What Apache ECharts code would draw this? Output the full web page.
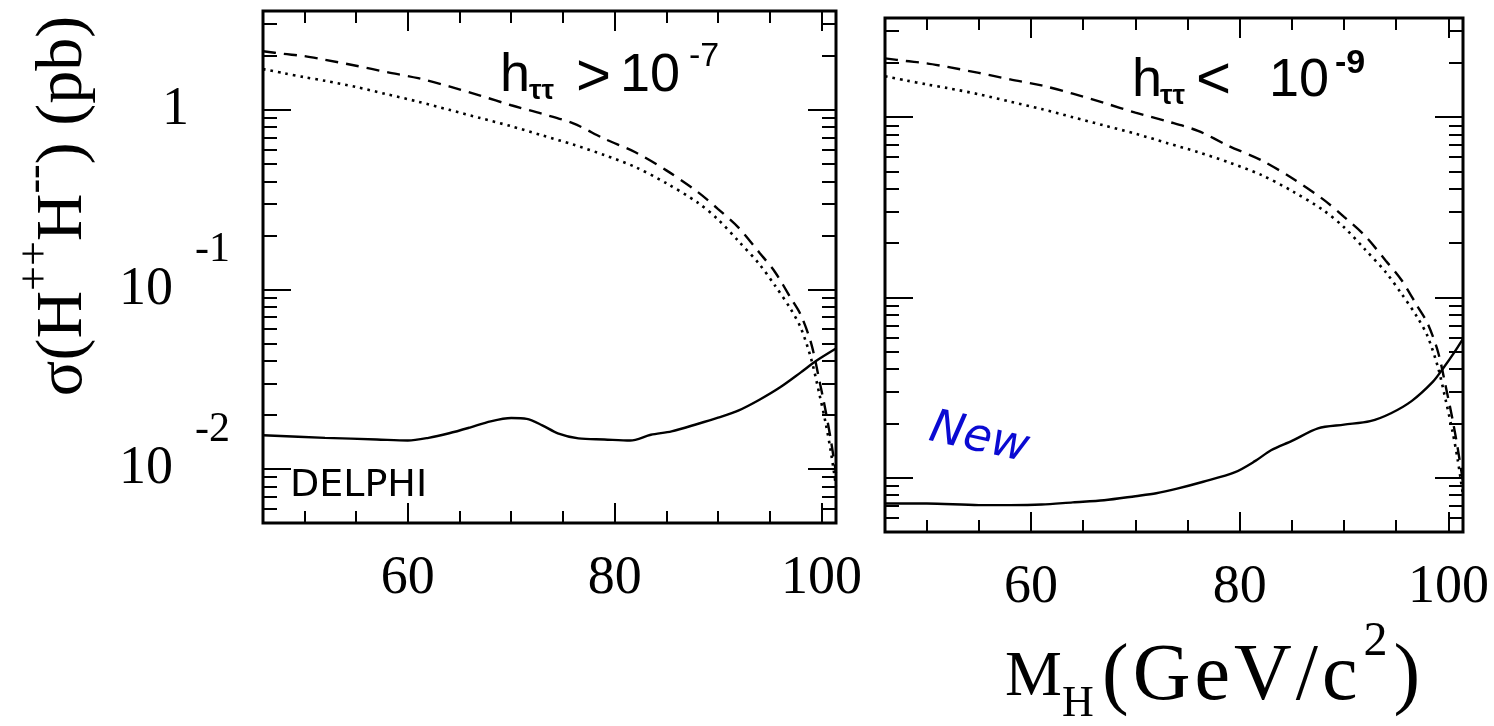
<!DOCTYPE html>
<html><head><meta charset="utf-8">
<script src="https://cdn.jsdelivr.net/npm/echarts@6/dist/echarts.min.js"></script>
<style>html,body{margin:0;padding:0;background:#fff}#c{width:1494px;height:726px}</style>
</head><body><div id="c"></div>
<script>
// ---- data ----
const massTheory   = [46, 48, 50, 52, 55, 58, 61, 64, 67, 70, 73, 76, 79, 82, 85, 88, 90, 92, 94, 95.5, 97, 98, 99, 99.8, 100.4, 100.9, 101.4];
const sigmaDashed  = [2.12, 2.05, 1.99, 1.90, 1.76, 1.62, 1.50, 1.35, 1.20, 1.06, 0.95, 0.84, 0.69, 0.58, 0.46, 0.35, 0.28, 0.22, 0.16, 0.125, 0.09, 0.072, 0.05, 0.031, 0.021, 0.0145, 0.0095];
const sigmaDotted  = [1.685, 1.60, 1.52, 1.45, 1.34, 1.22, 1.11, 1.00, 0.90, 0.81, 0.72, 0.64, 0.56, 0.48, 0.39, 0.305, 0.245, 0.185, 0.138, 0.105, 0.078, 0.061, 0.041, 0.026, 0.018, 0.0125, 0.008];
const massLimitLeft  = [46, 52, 57, 60, 62, 64, 66, 68, 70, 71.5, 73, 74.5, 76.5, 79, 81.5, 83.5, 85.5, 88, 90, 92, 94, 96, 98, 99.5, 101.4];
const sigmaLimitLeft = [0.0154, 0.0149, 0.0146, 0.0144, 0.0149, 0.0158, 0.0170, 0.0184, 0.0192, 0.0190, 0.0175, 0.0158, 0.0148, 0.0146, 0.0144, 0.0155, 0.0162, 0.0178, 0.0193, 0.0212, 0.0243, 0.0285, 0.0345, 0.0400, 0.0468];
const massLimitRight  = [46, 50, 55, 58, 61, 64, 67, 70, 72, 74, 76.5, 79.5, 81.5, 83, 85, 87.5, 90, 92.5, 94.5, 96.5, 98.5, 99.5, 100.5, 101.4];
const sigmaLimitRight = [0.0072, 0.0072, 0.00705, 0.00705, 0.0071, 0.0073, 0.0075, 0.0079, 0.0082, 0.0087, 0.0095, 0.0107, 0.0124, 0.0142, 0.0160, 0.0188, 0.0197, 0.0206, 0.0228, 0.0267, 0.0340, 0.0405, 0.049, 0.059];
const xMajorTicks = [60, 80, 100];
const xTickLabels = ['60', '80', '100'];
const xMinorTicks = [50, 55, 65, 70, 75, 85, 90, 95];
const yMajorTicks = [0.01, 0.1, 1];
const yLabelMantissa = ['10', '10', '1'];
const yLabelExponent = ['-2', '-1', ''];
const yMinorTicks = [0.006, 0.007, 0.008, 0.009, 0.02, 0.03, 0.04, 0.05, 0.06, 0.07, 0.08, 0.09, 0.2, 0.3, 0.4, 0.5, 0.6, 0.7, 0.8, 0.9, 2, 3];
const panelText = ['h', 'ττ', '>', '10', '-7', '<', '-9'];
const xTitleUnitChars = ['(', 'G', 'e', 'V', '/', 'c'];

const X_MIN = 46, X_MAX = 101.4, Y_MIN = 0.005, Y_MAX = 3.55;
const SERIF = '"Liberation Serif", "Times New Roman", serif';
const SANS = '"Liberation Sans", Arial, sans-serif';

function pairs(xs, ys) { return xs.map((x, i) => [x, ys[i]]); }

function xAxesFor(gi, withLabels) {
  const mk = (pos, ticks, len, labels) => ({
    gridIndex: gi, type: 'value', min: X_MIN, max: X_MAX, position: pos,
    axisLine: { show: false, onZero: false }, splitLine: { show: false },
    axisTick: { show: true, inside: true, length: len, customValues: ticks, lineStyle: { color: '#000', width: 2 } },
    axisLabel: labels ? {
      show: true, customValues: xMajorTicks, margin: 29,
      formatter: v => xTickLabels[xMajorTicks.indexOf(v)] || '',
      fontSize: 54, fontFamily: SERIF, color: '#000'
    } : { show: false }
  });
  return [
    mk('bottom', xMajorTicks, 20, withLabels),
    mk('bottom', xMinorTicks, 12, false),
    mk('top', xMajorTicks, 20, false),
    mk('top', xMinorTicks, 12, false)
  ];
}

function yAxesFor(gi, withLabels) {
  const mk = (pos, ticks, len, labels) => ({
    gridIndex: gi, type: 'log', logBase: 10, min: Y_MIN, max: Y_MAX, position: pos,
    axisLine: { show: false, onZero: false }, splitLine: { show: false },
    axisTick: { show: true, inside: true, length: len, customValues: ticks, lineStyle: { color: '#000', width: 2 } },
    axisLabel: labels ? {
      show: true, customValues: yMajorTicks, margin: 33,
      formatter: v => {
        const i = yMajorTicks.findIndex(t => Math.abs(Math.log10(t) - Math.log10(v)) < 1e-6);
        if (i < 0) return '';
        return yLabelExponent[i] ? '{b|' + yLabelMantissa[i] + '}{e|' + yLabelExponent[i] + '}' : '{one|' + yLabelMantissa[i] + '}';
      },
      rich: {
        b: { fontSize: 54, lineHeight: 120, fontFamily: SERIF, color: '#000' },
        e: { fontSize: 42, lineHeight: 42, fontFamily: SERIF, color: '#000', verticalAlign: 'top', padding: [0, 0, 0, 22] },
        one: { fontSize: 54, lineHeight: 60, fontFamily: SERIF, color: '#000', padding: [0, 41, 0, 0] }
      }
    } : { show: false }
  });
  return [
    mk('left', yMajorTicks, 28, withLabels),
    mk('left', yMinorTicks, 14, false),
    mk('right', yMajorTicks, 28, false),
    mk('right', yMinorTicks, 14, false)
  ];
}

function seriesFor(gi, limX, limY) {
  const common = { type: 'line', xAxisIndex: 4 * gi, yAxisIndex: 4 * gi, showSymbol: false, symbol: 'none', silent: true, animation: false };
  return [
    Object.assign({}, common, { name: 'dashed' + gi, data: pairs(massTheory, sigmaDashed), smooth: 0.3,
      lineStyle: { color: '#000', width: 2.4, type: [13, 8] } }),
    Object.assign({}, common, { name: 'dotted' + gi, data: pairs(massTheory, sigmaDotted), smooth: 0.3,
      lineStyle: { color: '#000', width: 2.6, type: [2.6, 5] } }),
    Object.assign({}, common, { name: 'limit' + gi, data: pairs(limX, limY), smooth: 0.3,
      lineStyle: { color: '#000', width: 2.4, type: 'solid' } })
  ];
}

function txt(x, y, text, font, extra) {
  return { type: 'text', x: x, y: y, silent: true,
    style: Object.assign({ text: text, font: font, fill: '#000', align: 'left', verticalAlign: 'middle',
      textAlign: 'left', textVerticalAlign: 'middle' }, extra || {}) };
}

const unitRich = xTitleUnitChars.map(c => '{p|' + c + '}').join('') + '{sup|2}{p|)}';

const option = {
  animation: false,
  backgroundColor: '#fff',
  grid: [
    { left: 263, top: 11, width: 573, height: 512, show: true, borderColor: '#000', borderWidth: 3, backgroundColor: 'transparent', containLabel: false, outerBoundsMode: 'none' },
    { left: 885, top: 18, width: 578, height: 514, show: true, borderColor: '#000', borderWidth: 3, backgroundColor: 'transparent', containLabel: false, outerBoundsMode: 'none' }
  ],
  xAxis: xAxesFor(0, true).concat(xAxesFor(1, true)),
  yAxis: yAxesFor(0, true).concat(yAxesFor(1, false)),
  series: seriesFor(0, massLimitLeft, sigmaLimitLeft).concat(seriesFor(1, massLimitRight, sigmaLimitRight)),
  graphic: [
    // left panel annotation
    txt(500, 76, panelText[0], '54px ' + SANS),
    txt(529, 91, panelText[1], 'bold 28px ' + SANS),
    txt(576, 78, panelText[2], '60px ' + SANS),
    txt(620, 76, panelText[3], '54px ' + SANS),
    txt(689, 57, panelText[4], '34px ' + SANS),
    // right panel annotation
    txt(1132, 81, panelText[0], '54px ' + SANS),
    txt(1160, 96, panelText[1], 'bold 28px ' + SANS),
    txt(1196, 81, panelText[5], '60px ' + SANS),
    txt(1269, 81, panelText[3], '54px ' + SANS),
    txt(1335, 64, panelText[6], 'bold 34px ' + SANS),
    // DELPHI and New
    txt(290, 486, 'DELPHI', '38px "DejaVu Sans", sans-serif'),
    { type: 'text', x: 930, y: 428, rotation: -0.22, silent: true,
      style: { text: 'New', font: 'italic 46px "DejaVu Sans", sans-serif', fill: '#0a0ad2', align: 'left', verticalAlign: 'middle', textAlign: 'left', textVerticalAlign: 'middle' } },
    // y-axis title (rotated)
    { type: 'text', x: 64, y: 206, rotation: Math.PI / 2, silent: true,
      style: { text: '{m|σ(H}{s|++}{m|H}{s|--}{m|) (pb)}', align: 'center', verticalAlign: 'middle', textAlign: 'center', textVerticalAlign: 'middle',
        rich: {
          m: { fontSize: 66, lineHeight: 100, fontFamily: SERIF, color: '#000' },
          s: { fontSize: 44, lineHeight: 44, fontFamily: SERIF, color: '#000', verticalAlign: 'top' }
        } } },
    // x-axis title: "M_H" then "(GeV/c^2)"
    { type: 'text', x: 1005, y: 678, silent: true,
      style: { text: '{m|M}{sub|H}', align: 'left', verticalAlign: 'middle', textAlign: 'left', textVerticalAlign: 'middle',
        rich: {
          m: { fontSize: 64, lineHeight: 120, fontFamily: SERIF, color: '#000' },
          sub: { fontSize: 44, lineHeight: 44, fontFamily: SERIF, color: '#000', verticalAlign: 'bottom', padding: [0, 0, 12, 0] }
        } } },
    { type: 'text', x: 1100, y: 678, silent: true,
      style: { text: unitRich, align: 'left', verticalAlign: 'middle', textAlign: 'left', textVerticalAlign: 'middle',
        rich: {
          p: { fontSize: 80, lineHeight: 120, fontFamily: SERIF, color: '#000', padding: [0, 2, 0, 2] },
          sup: { fontSize: 48, lineHeight: 48, fontFamily: SERIF, color: '#000', verticalAlign: 'top', padding: [0, 4, 0, 4] }
        } } }
  ]
};
const chart = echarts.init(document.getElementById('c'));
chart.setOption(option);
</script>
</body></html>
